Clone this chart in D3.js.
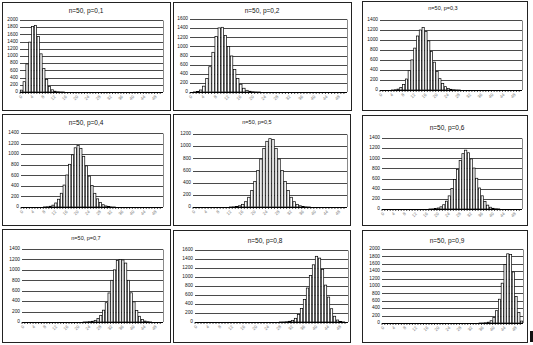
<!DOCTYPE html>
<html><head><meta charset="utf-8">
<script src="https://cdn.jsdelivr.net/npm/d3@7/dist/d3.min.js"></script>
<style>body{margin:0;background:#fff}svg{display:block}</style>
</head><body><svg id="c" width="533" height="345"></svg>
<script>
// ---- data ----
const categories = [0,1,2,3,4,5,6,7,8,9,10,11,12,13,14,15,16,17,18,19,20,21,22,23,24,25,26,27,28,29,30,31,32,33,34,35,36,37,38,39,40,41,42,43,44,45,46,47,48,49,50];
const xTickLabels = [0,4,8,12,16,20,24,28,32,36,40,44,48];
const titles = ["n=50, p=0,1","n=50, p=0,2","n=50, p=0,3","n=50, p=0,4","n=50, p=0,5","n=50, p=0,6","n=50, p=0,7","n=50, p=0,8","n=50, p=0,9"];
const yMaxes = [2000,1600,1400,1400,1200,1400,1400,1600,2000];
const yStep = 200;

const p01 = [52,286,779,1386,1820,1849,1541,1060,650,350,152,61,22,7,2,1,0,0,0,0,0,0,0,0,0,0,0,0,0,0,0,0,0,0,0,0,0,0,0,0,0,0,0,0,0,0,0,0,0,0,0];
const p02 = [0,2,11,44,128,295,554,870,1217,1405,1418,1239,1000,790,490,295,170,82,37,16,6,2,1,0,0,0,0,0,0,0,0,0,0,0,0,0,0,0,0,0,0,0,0,0,0,0,0,0,0,0,0];
const p03 = [0,0,0,0,1,6,18,48,110,220,386,602,838,1080,1200,1250,1170,983,772,557,370,227,128,67,32,14,6,2,1,0,0,0,0,0,0,0,0,0,0,0,0,0,0,0,0,0,0,0,0,0,0];
const p04 = [0,0,0,0,0,0,0,0,2,5,14,35,76,147,260,415,606,808,987,1120,1165,1110,959,778,584,405,259,154,84,43,20,9,3,1,0,0,0,0,0,0,0,0,0,0,0,0,0,0,0,0,0];
const p05 = [0,0,0,0,0,0,0,0,0,0,0,0,1,3,8,20,44,87,160,270,419,598,788,960,1080,1123,1110,960,788,598,419,270,160,87,44,20,8,3,1,0,0,0,0,0,0,0,0,0,0,0,0];
const p06 = [0,0,0,0,0,0,0,0,0,0,0,0,0,0,0,0,0,1,3,9,20,43,84,154,259,405,584,778,959,1091,1160,1109,987,808,606,415,260,147,76,35,14,5,2,0,0,0,0,0,0,0,0];
const p07 = [0,0,0,0,0,0,0,0,0,0,0,0,0,0,0,0,0,0,0,0,0,0,1,2,6,14,32,67,128,227,370,557,800,1000,1180,1200,1190,1130,800,560,386,220,110,48,18,6,1,0,0,0,0];
const p08 = [0,0,0,0,0,0,0,0,0,0,0,0,0,0,0,0,0,0,0,0,0,0,0,0,0,0,0,0,1,2,6,16,37,82,164,299,499,755,1033,1271,1460,1420,1169,820,554,295,128,44,11,2,0];
const p09 = [0,0,0,0,0,0,0,0,0,0,0,0,0,0,0,0,0,0,0,0,0,0,0,0,0,0,0,0,0,0,0,0,0,0,0,1,2,7,22,61,152,333,643,1076,1580,1870,1850,1380,720,280,52];
const series = [p01,p02,p03,p04,p05,p06,p07,p08,p09];

// ---- layout (positions only) ----
const layout = [
  {box:[2,2,168,108],   plot:[20,20,163,92],   title:[86,11],  fs:6.5},
  {box:[173,2,178,108], plot:[190,19,347,92],  title:[262,11], fs:6.5},
  {box:[362,1,165,109], plot:[380,20,522,90],  title:[443,9],  fs:5.5},
  {box:[2,114,168,111], plot:[21,133,163,207], title:[86,123], fs:6.5},
  {box:[173,114,177,111],plot:[193,134,347,207],title:[257,123],fs:5.5},
  {box:[362,115,165,110],plot:[382,138,522,209],title:[447,128],fs:6.5},
  {box:[2,229,168,113], plot:[22,249,163,322], title:[86,239], fs:5.5},
  {box:[173,230,177,112],plot:[195,250,348,322],title:[265,241],fs:6.5},
  {box:[362,230,165,112],plot:[382,249,523,323],title:[447,241],fs:6.5}
];

const svg = d3.select("#c");
const FONT = "'Liberation Sans', Arial, sans-serif";

series.forEach((vals, i) => {
  const L = layout[i];
  const [bx,by,bw,bh] = L.box;
  const [pl,pt,pr,pb] = L.plot;
  const g = svg.append("g");

  g.append("rect").attr("x",bx+0.5).attr("y",by+0.5).attr("width",bw).attr("height",bh)
    .attr("fill","#fff").attr("stroke","#222").attr("stroke-width",1);

  g.append("text").attr("x",L.title[0]).attr("y",L.title[1]).attr("text-anchor","middle")
    .attr("dominant-baseline","middle").attr("font-family",FONT).attr("font-size",L.fs)
    .attr("fill","#111").text(titles[i]);

  const x = d3.scaleBand().domain(categories).range([pl,pr]).paddingInner(0.2).paddingOuter(0.1);
  const y = d3.scaleLinear().domain([0,yMaxes[i]]).range([pb,pt]);
  const yTicks = y.ticks(yMaxes[i]/yStep);

  // gridlines
  g.append("g").selectAll("line").data(yTicks.filter(t=>t>0)).join("line")
    .attr("x1",pl).attr("x2",pr).attr("y1",d=>Math.round(y(d))+0.5).attr("y2",d=>Math.round(y(d))+0.5)
    .attr("stroke","#4a4a4a").attr("stroke-width",1);
  // plot area right border
  g.append("line").attr("x1",pr+0.5).attr("x2",pr+0.5).attr("y1",Math.round(pt)+0.5).attr("y2",pb)
    .attr("stroke","#8a8a8a");

  // y labels
  g.append("g").selectAll("text").data(yTicks).join("text")
    .attr("x",pl-2).attr("y",d=>y(d)).attr("text-anchor","end").attr("dominant-baseline","middle")
    .attr("font-family",FONT).attr("font-size",4.8).attr("fill","#111").text(d=>d);

  // bars
  g.append("g").selectAll("rect").data(categories.map((c,k)=>({c,v:vals[k]})).filter(d=>d.v>0)).join("rect")
    .attr("x",d=>x(d.c)).attr("y",d=>y(d.v)).attr("width",x.bandwidth())
    .attr("height",d=>Math.max(0.4,pb-y(d.v)))
    .attr("fill","#fff").attr("stroke","#000").attr("stroke-width",0.7);

  // x axis line + tick marks between categories
  g.append("line").attr("x1",pl).attr("x2",pr).attr("y1",pb+0.5).attr("y2",pb+0.5)
    .attr("stroke","#000").attr("stroke-width",1);
  g.append("g").selectAll("line").data(categories).join("line")
    .attr("x1",d=>x(d)-x.step()*0.1).attr("x2",d=>x(d)-x.step()*0.1)
    .attr("y1",pb).attr("y2",pb+2).attr("stroke","#000").attr("stroke-width",0.7);

  // x labels (rotated)
  g.append("g").selectAll("text").data(xTickLabels).join("text")
    .attr("transform",d=>`translate(${x(d)+x.bandwidth()/2+1},${pb+5}) rotate(-45)`)
    .attr("text-anchor","end").attr("font-family",FONT).attr("font-size",4.4)
    .attr("fill","#777").text(d=>d);
});

// small dark mark at lower right
svg.append("rect").attr("x",530).attr("y",331).attr("width",3).attr("height",11).attr("fill","#111");
</script>
</body></html>
